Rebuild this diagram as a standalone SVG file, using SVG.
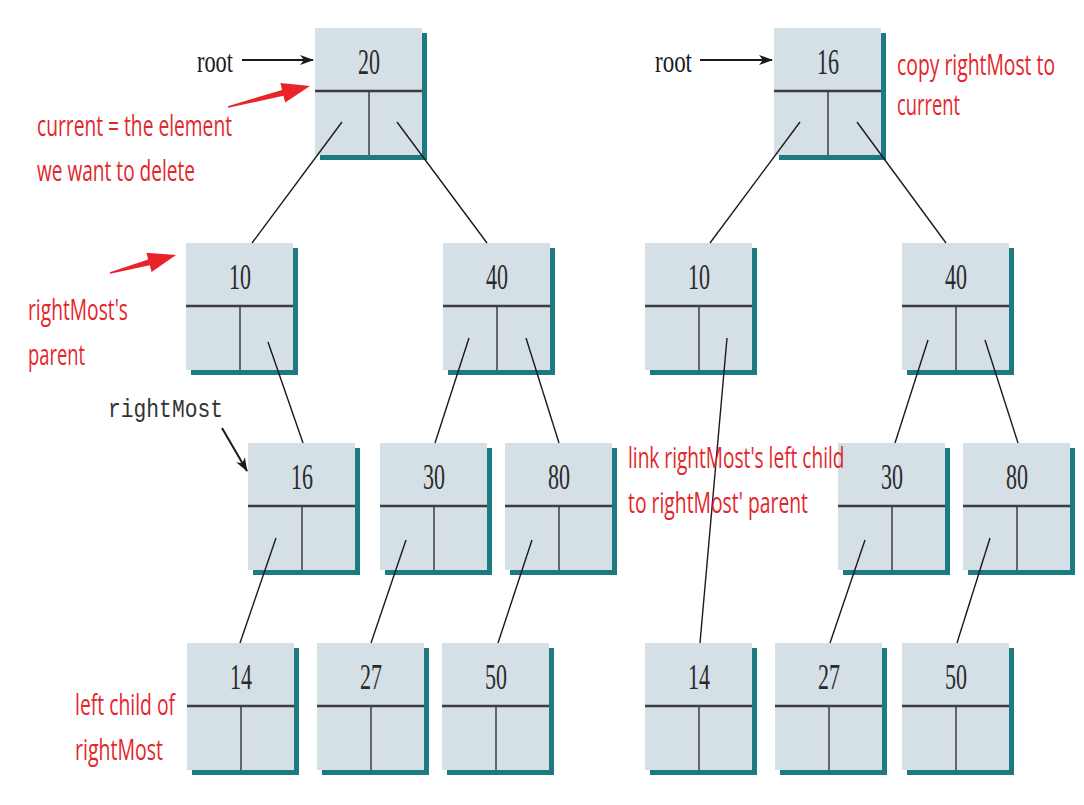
<svg xmlns="http://www.w3.org/2000/svg" xmlns:xlink="http://www.w3.org/1999/xlink" width="1084" height="805" viewBox="0 0 1084 805">
<style>
.num{font-family:"Liberation Serif","Times New Roman",serif;font-size:36px;fill:#2a2a2a;text-anchor:middle}
.lbl{font-family:"Liberation Serif","Times New Roman",serif;font-size:31px;fill:#1a1a1a}
.red{font-family:"Open Sans","Noto Sans","Liberation Sans",sans-serif;font-size:29px;fill:#e3262b}
.mono{font-family:"Liberation Mono","Courier New",monospace;font-size:25px;fill:#333}
.edge{stroke:#1a1a1a;stroke-width:1.4;fill:none}
.ptr{stroke:#1a1a1a;stroke-width:2;fill:none}
</style>
<defs>
<g id="node">
<rect x="5" y="5" width="107" height="127" fill="#1d7a80"/>
<rect x="0" y="0" width="107" height="127" fill="#d5dfe6"/>
<line x1="0" y1="63" x2="107" y2="63" stroke="#3c3c3c" stroke-width="2.5"/>
<line x1="54" y1="63" x2="54" y2="127" stroke="#3c3c3c" stroke-width="1.5"/>
</g>
<marker id="ah" markerWidth="14" markerHeight="10" refX="13" refY="5" orient="auto" markerUnits="userSpaceOnUse">
<path d="M0,0 L14,5 L0,10 L4,5 Z" fill="#1a1a1a"/>
</marker>
</defs>
<rect width="1084" height="805" fill="#ffffff"/>

<g id="L20"><use xlink:href="#node" x="315" y="28"/><text class="num" x="369" y="74" textLength="22" lengthAdjust="spacingAndGlyphs">20</text></g>
<g id="L10"><use xlink:href="#node" x="186" y="243"/><text class="num" x="240" y="289" textLength="22" lengthAdjust="spacingAndGlyphs">10</text></g>
<g id="L40"><use xlink:href="#node" x="443" y="243"/><text class="num" x="497" y="289" textLength="22" lengthAdjust="spacingAndGlyphs">40</text></g>
<g id="L16"><use xlink:href="#node" x="248" y="443"/><text class="num" x="302" y="489" textLength="22" lengthAdjust="spacingAndGlyphs">16</text></g>
<g id="L30"><use xlink:href="#node" x="380" y="443"/><text class="num" x="434" y="489" textLength="22" lengthAdjust="spacingAndGlyphs">30</text></g>
<g id="L80"><use xlink:href="#node" x="505" y="443"/><text class="num" x="559" y="489" textLength="22" lengthAdjust="spacingAndGlyphs">80</text></g>
<g id="L14"><use xlink:href="#node" x="187" y="643"/><text class="num" x="241" y="689" textLength="22" lengthAdjust="spacingAndGlyphs">14</text></g>
<g id="L27"><use xlink:href="#node" x="317" y="643"/><text class="num" x="371" y="689" textLength="22" lengthAdjust="spacingAndGlyphs">27</text></g>
<g id="L50"><use xlink:href="#node" x="442" y="643"/><text class="num" x="496" y="689" textLength="22" lengthAdjust="spacingAndGlyphs">50</text></g>

<g id="R16"><use xlink:href="#node" x="774" y="28"/><text class="num" x="828" y="74" textLength="22" lengthAdjust="spacingAndGlyphs">16</text></g>
<g id="R10"><use xlink:href="#node" x="645" y="243"/><text class="num" x="699" y="289" textLength="22" lengthAdjust="spacingAndGlyphs">10</text></g>
<g id="R40"><use xlink:href="#node" x="902" y="243"/><text class="num" x="956" y="289" textLength="22" lengthAdjust="spacingAndGlyphs">40</text></g>
<g id="R30"><use xlink:href="#node" x="838" y="443"/><text class="num" x="892" y="489" textLength="22" lengthAdjust="spacingAndGlyphs">30</text></g>
<g id="R80"><use xlink:href="#node" x="963" y="443"/><text class="num" x="1017" y="489" textLength="22" lengthAdjust="spacingAndGlyphs">80</text></g>
<g id="R14"><use xlink:href="#node" x="645" y="643"/><text class="num" x="699" y="689" textLength="22" lengthAdjust="spacingAndGlyphs">14</text></g>
<g id="R27"><use xlink:href="#node" x="775" y="643"/><text class="num" x="829" y="689" textLength="22" lengthAdjust="spacingAndGlyphs">27</text></g>
<g id="R50"><use xlink:href="#node" x="902" y="643"/><text class="num" x="956" y="689" textLength="22" lengthAdjust="spacingAndGlyphs">50</text></g>

<g id="connectors">
<line class="edge" x1="342" y1="122" x2="252" y2="243"/>
<line class="edge" x1="397" y1="122" x2="487" y2="243"/>
<line class="edge" x1="268" y1="342" x2="303" y2="443"/>
<line class="edge" x1="469" y1="338" x2="435" y2="443"/>
<line class="edge" x1="526" y1="338" x2="559" y2="443"/>
<line class="edge" x1="276" y1="538" x2="240" y2="643"/>
<line class="edge" x1="406" y1="540" x2="371" y2="643"/>
<line class="edge" x1="532" y1="540" x2="498" y2="643"/>
<line class="edge" x1="800" y1="122" x2="710" y2="243"/>
<line class="edge" x1="857" y1="122" x2="946" y2="243"/>
<line class="edge" x1="727" y1="338" x2="700" y2="643"/>
<line class="edge" x1="928" y1="340" x2="895" y2="443"/>
<line class="edge" x1="985" y1="340" x2="1018" y2="443"/>
<line class="edge" x1="865" y1="540" x2="830" y2="643"/>
<line class="edge" x1="990" y1="538" x2="957" y2="643"/>
<line class="ptr" x1="242" y1="60" x2="313" y2="60" marker-end="url(#ah)"/>
<line class="ptr" x1="700" y1="60" x2="772" y2="60" marker-end="url(#ah)"/>
<line class="ptr" x1="222" y1="428" x2="247" y2="471" marker-end="url(#ah)"/>
<path d="M228.2,107.8 L283.5,95.7 L285.2,102.5 L310,86 L280.4,83.1 L282.1,89.9 L227.8,106.2 Z" fill="#e8232a"/>
<path d="M110.2,273.8 L149.8,265.3 L151.6,272 L176,255 L146.4,252.8 L148.2,259.5 L109.8,272.2 Z" fill="#e8232a"/>
</g>

<g id="labels">
<text class="lbl" x="197" y="72" textLength="36" lengthAdjust="spacingAndGlyphs">root</text>
<text class="lbl" x="655" y="72" textLength="37" lengthAdjust="spacingAndGlyphs">root</text>
<text class="mono" x="108" y="417" textLength="115" lengthAdjust="spacingAndGlyphs">rightMost</text>
<text class="red" transform="translate(37,136) scale(0.68,1)" textLength="286.8" lengthAdjust="spacingAndGlyphs">current = the element</text>
<text class="red" transform="translate(37,181) scale(0.68,1)" textLength="232.4" lengthAdjust="spacingAndGlyphs">we want to delete</text>
<text class="red" transform="translate(28,320) scale(0.68,1)" textLength="147.1" lengthAdjust="spacingAndGlyphs">rightMost's</text>
<text class="red" transform="translate(28,365) scale(0.68,1)" textLength="83.8" lengthAdjust="spacingAndGlyphs">parent</text>
<text class="red" transform="translate(75,715) scale(0.68,1)" textLength="147.1" lengthAdjust="spacingAndGlyphs">left child of</text>
<text class="red" transform="translate(75,760) scale(0.68,1)" textLength="129.4" lengthAdjust="spacingAndGlyphs">rightMost</text>
<text class="red" transform="translate(897,75) scale(0.68,1)" textLength="232.4" lengthAdjust="spacingAndGlyphs">copy rightMost to</text>
<text class="red" transform="translate(897,115) scale(0.68,1)" textLength="92.6" lengthAdjust="spacingAndGlyphs">current</text>
<text class="red" transform="translate(628,468) scale(0.68,1)" textLength="318.4" lengthAdjust="spacingAndGlyphs">link rightMost's left child</text>
<text class="red" transform="translate(628,513) scale(0.68,1)" textLength="264.7" lengthAdjust="spacingAndGlyphs">to rightMost' parent</text>
</g>
</svg>
